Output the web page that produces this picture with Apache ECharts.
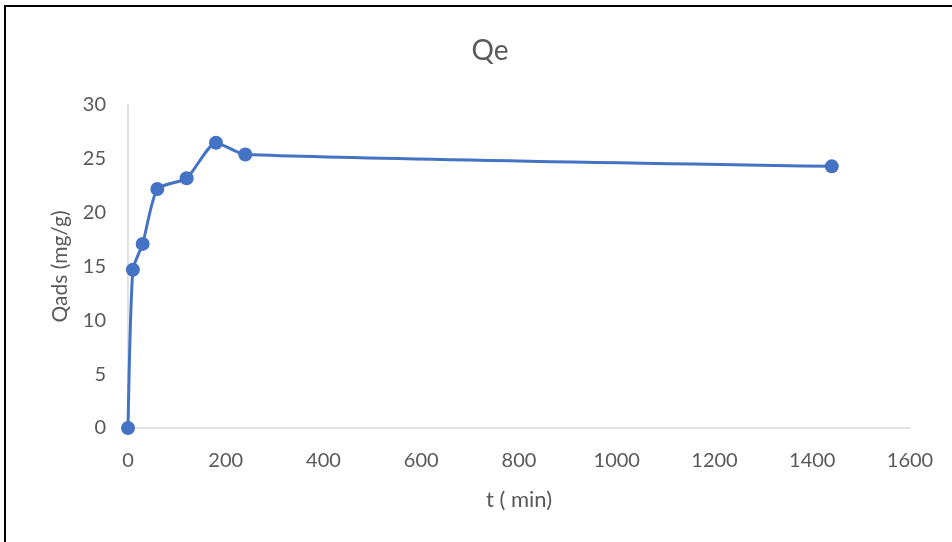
<!DOCTYPE html>
<html>
<head>
<meta charset="utf-8">
<script src="https://cdn.jsdelivr.net/npm/echarts@6/dist/echarts.min.js"></script>
<style>
  html, body { margin: 0; padding: 0; background: #fff; }
  #chart { width: 952px; height: 542px; }
</style>
</head>
<body>
<div id="chart"></div>
<script>
// Adsorption kinetics: time (min) vs adsorbed quantity (mg/g)
const timeMin = [0, 10, 30, 60, 120, 180, 240, 1440];
const qads = [0, 14.7, 17.1, 22.2, 23.2, 26.5, 25.4, 24.3];

const chart = echarts.init(document.getElementById('chart'));
const labelColor = '#595959';
const fontFamily = 'Lato, "Open Sans", sans-serif';

chart.setOption({
  backgroundColor: '#ffffff',
  animation: false,
  title: {
    text: 'Qe',
    left: 485,
    top: 32,
    textAlign: 'center',
    textStyle: { color: labelColor, fontSize: 28, fontWeight: 'normal', fontFamily }
  },
  graphic: [{
    type: 'rect',
    shape: { x: 5, y: 6, width: 970, height: 560 },
    style: { fill: 'none', stroke: '#000', lineWidth: 2 },
    silent: true
  }],
  grid: { left: 128, right: 42, top: 105, bottom: 114 },
  xAxis: {
    type: 'value',
    min: 0, max: 1600, interval: 200,
    name: 't ( min)',
    nameLocation: 'middle',
    nameGap: 61,
    nameMoveOverlap: false,
    nameTextStyle: { color: labelColor, fontSize: 22, fontFamily },
    axisLine: { show: true, lineStyle: { color: '#d9d9d9', width: 1.5 } },
    axisTick: { show: false },
    splitLine: { show: false },
    axisLabel: { color: labelColor, fontSize: 20, margin: 23, fontFamily, formatter: v => String(v) }
  },
  yAxis: {
    type: 'value',
    min: 0, max: 30, interval: 5,
    name: 'Qads (mg/g)',
    nameLocation: 'middle',
    nameGap: 57,
    nameMoveOverlap: false,
    nameRotate: 90,
    nameTextStyle: { color: labelColor, fontSize: 21, fontFamily },
    axisLine: { show: true, lineStyle: { color: '#d9d9d9', width: 1.5 } },
    axisTick: { show: false },
    splitLine: { show: false },
    axisLabel: { color: labelColor, fontSize: 20, margin: 22, fontFamily }
  },
  series: [{
    type: 'line',
    data: timeMin.map((t, i) => [t, qads[i]]),
    smooth: 0.2,
    symbol: 'circle',
    symbolSize: 14,
    lineStyle: { color: '#4472c4', width: 3 },
    itemStyle: { color: '#4472c4' }
  }]
});
</script>
</body>
</html>
